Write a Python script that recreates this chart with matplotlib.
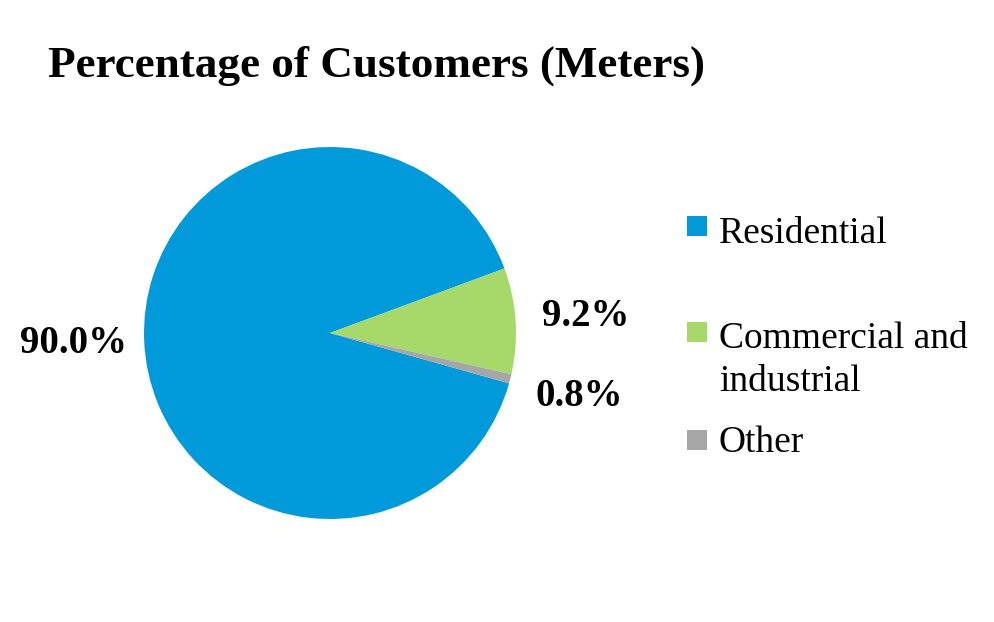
import matplotlib.pyplot as plt
from matplotlib.patches import Rectangle

labels = ['Residential', 'Commercial and\nindustrial', 'Other']
values = [90.0, 9.2, 0.8]
colors = ['#009ADB', '#A6D96A', '#A6A6A6']

plt.rcParams['font.family'] = ['Liberation Serif', 'DejaVu Serif']

W, H = 994, 622
fig = plt.figure(figsize=(W / 100, H / 100), dpi=100)

# pie centre (330, 333) px, radius 186 px
cx, cy, r = 330, 333, 186
ax = fig.add_axes([(cx - r) / W, (H - cy - r) / H, 2 * r / W, 2 * r / H])
wedges, texts, autotexts = ax.pie(
    values, colors=colors, startangle=-15.7, counterclock=False,
    autopct='%1.1f%%', pctdistance=1.38,
    textprops={'fontsize': 28, 'fontweight': 'bold'})
ax.set_xlim(-1, 1)
ax.set_ylim(-1, 1)
ax.set_aspect('equal')

fig.text(48 / W, 1 - 77 / H, 'Percentage of Customers (Meters)',
         fontsize=32.5, fontweight='bold', va='baseline', ha='left')

# legend drawn by hand to match the uneven spacing
square_top = [216, 322, 430]
baselines = [243, 348, 452]
for lab, col, st, bl in zip(labels, colors, square_top, baselines):
    fig.patches.append(Rectangle((687 / W, 1 - (st + 20) / H), 20 / W, 20 / H,
                                 facecolor=col, edgecolor='none',
                                 transform=fig.transFigure))
    first = lab.split('\n')[0]
    rest = lab.split('\n')[1:]
    fig.text(719 / W, 1 - bl / H, first, fontsize=27, va='baseline', ha='left')
    for i, line in enumerate(rest):
        fig.text(719 / W, 1 - (bl + 43 * (i + 1)) / H, line, fontsize=27,
                 va='baseline', ha='left')

fig.savefig('out.png', dpi=100)
plt.close()
